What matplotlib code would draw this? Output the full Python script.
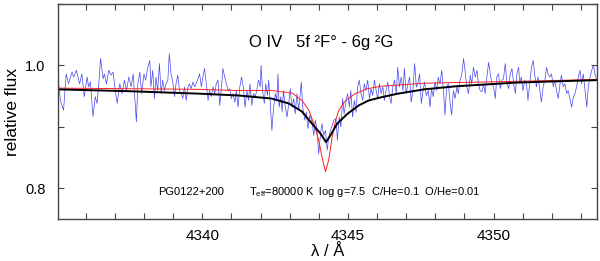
import matplotlib
matplotlib.use("Agg")
import matplotlib.pyplot as plt
from matplotlib.ticker import MultipleLocator

plt.rcParams['font.family'] = ['Liberation Sans', 'DejaVu Sans']
plt.rcParams['mathtext.fontset'] = 'custom'
plt.rcParams['mathtext.rm'] = 'Liberation Sans'

obs_wl = [4334.99, 4335.13, 4335.24, 4335.33, 4335.41, 4335.53, 4335.59, 4335.68, 4335.79, 4335.87,
          4335.95, 4336.05, 4336.10, 4336.16, 4336.25, 4336.33, 4336.39, 4336.45, 4336.51, 4336.56,
          4336.60, 4336.64, 4336.71, 4336.79, 4336.87, 4336.94, 4337.00, 4337.08, 4337.17, 4337.25,
          4337.33, 4337.40, 4337.48, 4337.56, 4337.63, 4337.74, 4337.79, 4337.86, 4337.92, 4338.00,
          4338.06, 4338.12, 4338.20,
          4338.24, 4338.30, 4338.36, 4338.41, 4338.47, 4338.53, 4338.59, 4338.64, 4338.70, 4338.76,
          4338.82, 4338.87, 4338.93, 4338.99, 4339.05, 4339.10, 4339.16, 4339.22, 4339.28, 4339.33,
          4339.39, 4339.45, 4339.51, 4339.56, 4339.62, 4339.68, 4339.74, 4339.79, 4339.85, 4339.91,
          4339.97, 4340.02, 4340.08, 4340.14, 4340.20, 4340.25, 4340.31, 4340.37, 4340.43, 4340.48,
          4340.54, 4340.60, 4340.66, 4340.71, 4340.77, 4340.83, 4340.89, 4340.94, 4341.00, 4341.06,
          4341.12, 4341.17, 4341.23, 4341.29, 4341.35,
          4341.41, 4341.47, 4341.53, 4341.59, 4341.64, 4341.70, 4341.76, 4341.82, 4341.87, 4341.93,
          4341.99, 4342.02, 4342.07, 4342.13, 4342.18, 4342.24, 4342.28, 4342.33, 4342.39, 4342.45,
          4342.51, 4342.56, 4342.60, 4342.64, 4342.70, 4342.74, 4342.79, 4342.85, 4342.91, 4342.97,
          4343.02, 4343.08, 4343.14, 4343.19, 4343.25, 4343.31, 4343.40, 4343.45, 4343.52, 4343.57,
          4343.63, 4343.69, 4343.77, 4343.83, 4343.88, 4343.94, 4344.00, 4344.06, 4344.11, 4344.17,
          4344.23, 4344.29, 4344.34, 4344.40, 4344.46, 4344.52,
          4344.59, 4344.64, 4344.70, 4344.76, 4344.82, 4344.87, 4344.93, 4344.99, 4345.05, 4345.10,
          4345.16, 4345.22, 4345.28, 4345.33, 4345.39, 4345.45, 4345.51, 4345.56, 4345.62, 4345.68,
          4345.74, 4345.79, 4345.85, 4345.91, 4345.97, 4346.02, 4346.08, 4346.14, 4346.20, 4346.25,
          4346.31, 4346.37, 4346.43, 4346.48, 4346.54, 4346.60, 4346.66, 4346.71, 4346.77, 4346.83,
          4346.89, 4346.94, 4347.00, 4347.06, 4347.12, 4347.17, 4347.23, 4347.29, 4347.35, 4347.40,
          4347.46, 4347.52, 4347.58, 4347.63, 4347.69,
          4347.76, 4347.82, 4347.87, 4347.93, 4347.99, 4348.05, 4348.10, 4348.16, 4348.22, 4348.28,
          4348.33, 4348.39, 4348.45, 4348.51, 4348.56, 4348.62, 4348.68, 4348.74, 4348.79, 4348.85,
          4348.91, 4348.97, 4349.02, 4349.08, 4349.14, 4349.20, 4349.25, 4349.31, 4349.37, 4349.43,
          4349.48, 4349.54, 4349.60, 4349.66, 4349.71, 4349.77, 4349.83, 4349.89, 4349.94, 4350.00,
          4350.06, 4350.11, 4350.17, 4350.23, 4350.29, 4350.34, 4350.40, 4350.46, 4350.52, 4350.57,
          4350.63, 4350.69, 4350.75, 4350.80, 4350.86,
          4350.90, 4350.95, 4351.01, 4351.07, 4351.13, 4351.18, 4351.24, 4351.30, 4351.36, 4351.41,
          4351.47, 4351.53, 4351.59, 4351.64, 4351.70, 4351.76, 4351.82, 4351.87, 4351.93, 4351.99,
          4352.05, 4352.10, 4352.16, 4352.22, 4352.28, 4352.33, 4352.39, 4352.45, 4352.51, 4352.56,
          4352.62, 4352.68, 4352.74, 4352.79, 4352.85, 4352.91, 4352.97, 4353.02, 4353.08, 4353.14,
          4353.20, 4353.25, 4353.31, 4353.37, 4353.43, 4353.48, 4353.54]
obs_flux = [1.011, 0.943, 0.927, 0.986, 0.970, 0.989, 0.981, 0.992, 0.970, 0.986,
            0.949, 0.981, 0.965, 0.973, 0.917, 0.949, 0.938, 0.970, 1.011, 0.992,
            0.978, 0.986, 0.970, 0.992, 0.984, 0.989, 0.965, 0.938, 0.970, 0.954,
            0.976, 0.959, 0.981, 0.965, 0.986, 0.908, 0.970, 0.989, 0.954, 0.986,
            0.976, 0.995, 1.008,
            0.965, 0.992, 0.946, 0.981, 0.959, 1.003, 0.954, 0.976, 0.959, 0.970,
            0.976, 1.019, 0.986, 0.973, 0.949, 0.970, 0.984, 0.959, 0.954, 0.946,
            0.965, 0.943, 0.965, 0.970, 0.962, 0.973, 0.965, 0.970, 0.978, 0.986,
            0.965, 0.981, 0.995, 0.970, 0.943, 0.959, 0.949, 0.965, 0.954, 0.970,
            0.976, 0.935, 0.965, 0.995, 0.981, 0.970, 0.959, 0.962, 0.946, 0.954,
            0.940, 0.959, 0.932, 0.965, 0.981,
            0.965, 0.932, 0.959, 0.943, 0.970, 0.935, 0.954, 0.949, 0.959, 0.976,
            0.965, 1.000, 0.959, 0.938, 0.970, 0.951, 0.976, 0.943, 0.894, 0.932,
            0.954, 0.943, 0.986, 0.932, 0.949, 0.924, 0.959, 0.932, 0.916, 0.938,
            0.962, 0.932, 0.946, 0.921, 0.954, 0.927, 0.973, 0.932, 0.911, 0.924,
            0.897, 0.919, 0.908, 0.886, 0.911, 0.894, 0.856, 0.889, 0.905, 0.886,
            0.894, 0.862, 0.883, 0.894, 0.902, 0.911,
            0.913, 0.878, 0.916, 0.900, 0.946, 0.921, 0.940, 0.954, 0.932, 0.959,
            0.916, 0.943, 0.924, 0.965, 0.976, 0.954, 0.943, 0.970, 0.959, 0.976,
            0.946, 0.962, 0.951, 0.976, 0.959, 0.946, 0.970, 0.954, 0.965, 0.943,
            0.959, 0.973, 0.949, 0.938, 0.965, 0.976, 0.954, 0.997, 0.965, 0.981,
            0.959, 0.995, 0.954, 0.970, 0.981, 0.940, 0.959, 1.003, 0.965, 0.970,
            0.986, 0.938, 0.959, 0.973, 0.951,
            0.959, 0.932, 0.962, 0.949, 0.973, 0.959, 0.981, 0.970, 0.992, 0.959,
            0.919, 0.965, 0.970, 0.938, 0.919, 0.959, 0.946, 0.965, 0.954, 0.976,
            0.986, 1.011, 0.992, 0.965, 0.954, 0.984, 0.970, 0.997, 0.981, 0.992,
            0.970, 0.959, 0.957, 0.970, 0.954, 0.981, 1.005, 0.986, 0.970, 0.965,
            0.946, 0.981, 0.986, 0.962, 0.976, 0.978, 1.003, 0.970, 0.962, 0.986,
            0.995, 0.970, 0.954, 0.986, 0.997,
            0.970, 0.981, 0.959, 0.976, 0.970, 0.943, 0.970, 0.997, 1.008, 0.986,
            0.965, 0.981, 0.959, 0.940, 0.965, 0.976, 0.997, 0.986, 0.981, 0.986,
            0.965, 0.976, 0.959, 0.946, 0.970, 0.984, 0.965, 0.970, 0.954, 0.959,
            0.946, 0.932, 0.949, 0.954, 0.965, 0.981, 0.992, 0.970, 0.986, 0.959,
            0.932, 0.965, 0.981, 0.992, 1.000, 0.986, 0.976]

# model with broader profile (black)
model1_wl = [4334.97, 4337.45, 4339.86, 4341.24, 4342.38, 4342.97, 4343.42, 4343.77, 4344.06,
             4344.25, 4344.40, 4344.63, 4344.98, 4345.38, 4345.72, 4346.14, 4346.72, 4347.62,
             4348.72, 4350.79, 4353.55]
model1_flux = [0.961, 0.958, 0.954, 0.951, 0.946, 0.938, 0.925, 0.905, 0.889,
               0.875, 0.886, 0.905, 0.921, 0.935, 0.943, 0.948, 0.954, 0.961,
               0.966, 0.972, 0.976]

# model with narrow profile (red)
model2_wl = [4334.97, 4339.86, 4341.24, 4342.38, 4343.08, 4343.42, 4343.66, 4343.83, 4344.00,
             4344.11, 4344.23, 4344.34, 4344.46, 4344.58, 4344.69, 4344.92, 4345.26, 4345.67,
             4346.14, 4347.62, 4350.79, 4353.55]
model2_flux = [0.963, 0.961, 0.959, 0.959, 0.955, 0.943, 0.927, 0.905, 0.878,
               0.851, 0.827, 0.846, 0.883, 0.911, 0.927, 0.943, 0.954, 0.962,
               0.966, 0.971, 0.974, 0.977]

fig = plt.figure(figsize=(6.0, 2.61), dpi=100)
ax = fig.add_axes([0.0967, 0.161, 0.8983, 0.824])

ax.plot(obs_wl, obs_flux, color='#4646ee', lw=0.5)
ax.plot(model2_wl, model2_flux, color='#ff2020', lw=0.7)
ax.plot(model1_wl, model1_flux, color='black', lw=1.4)

ax.set_xlim(4335.05, 4353.55)
ax.set_ylim(0.75, 1.1)

ax.xaxis.set_major_locator(MultipleLocator(5))
ax.xaxis.set_minor_locator(MultipleLocator(1))
ax.yaxis.set_major_locator(MultipleLocator(0.2))
ax.yaxis.set_minor_locator(MultipleLocator(0.1))
ax.tick_params(which='both', direction='in', top=True, right=True,
               length=4.5, width=0.8, color='#444444')
ax.tick_params(axis='x', labelsize=11, pad=7)
ax.tick_params(axis='y', labelsize=10.5, pad=9)
for s in ax.spines.values():
    s.set_color('#444444')
    s.set_linewidth(1.0)

ax.set_xlabel('λ / Å', fontsize=12, labelpad=1)
ax.set_ylabel('relative flux', fontsize=12.5, labelpad=4)

ax.text(4344.07, 1.037, 'O IV   5f ²F° - 6g ²G', ha='center', va='center', fontsize=12)
ax.text(4338.48, 0.7935, 'PG0122+200', ha='left', va='center', fontsize=8)
ax.text(4341.59, 0.7935, r'T$_{\rm eff}$=80000 K  log g=7.5  C/He=0.1  O/He=0.01',
        ha='left', va='center', fontsize=8)

fig.savefig('out.png', dpi=100)
